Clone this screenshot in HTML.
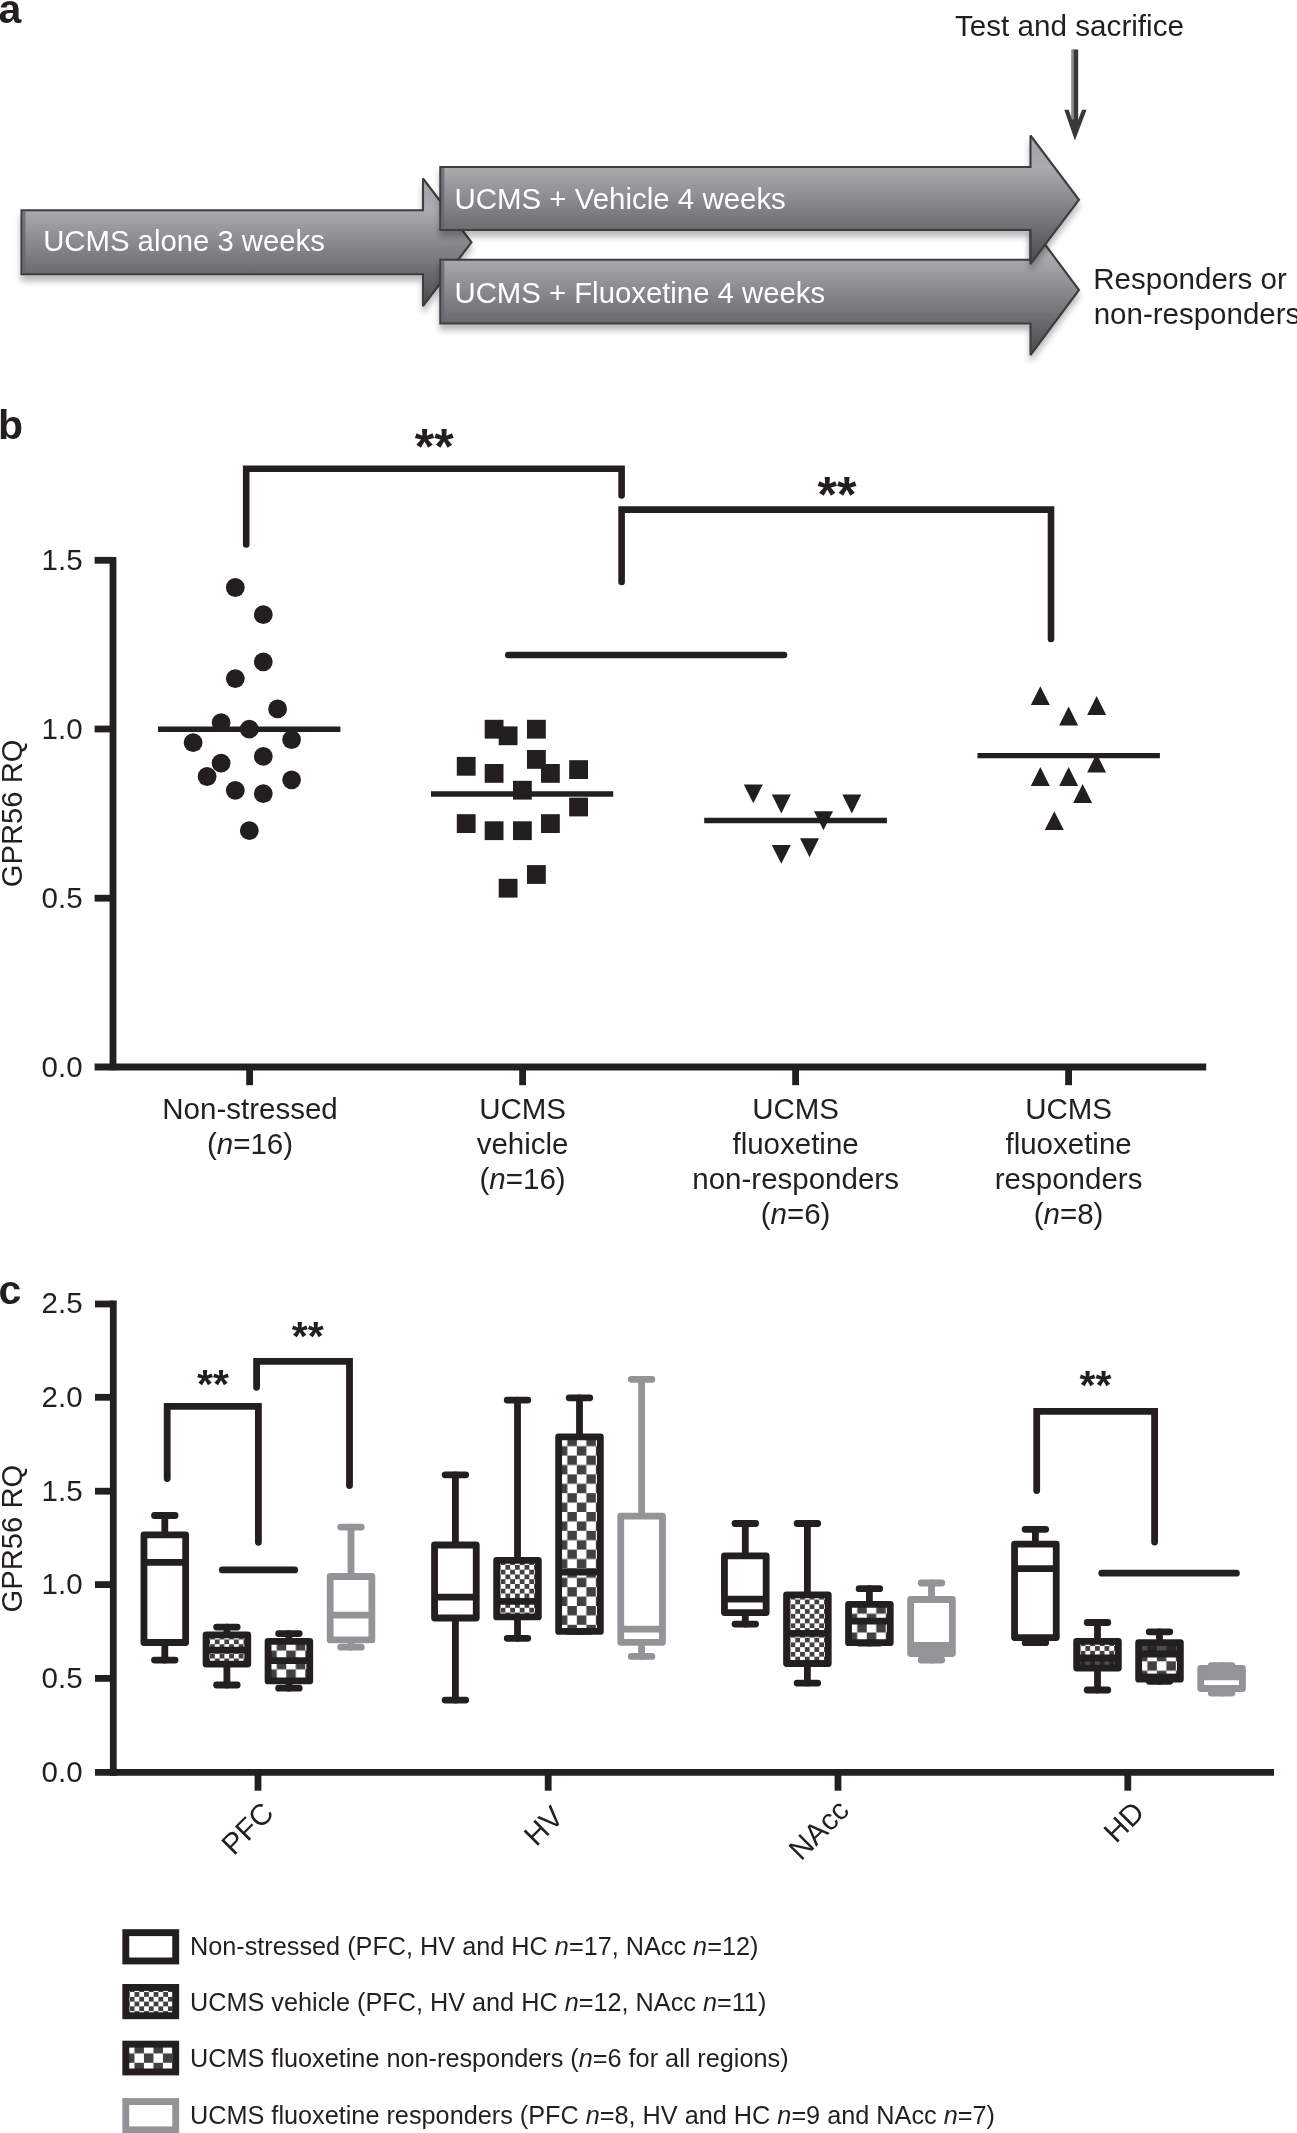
<!DOCTYPE html>
<html><head><meta charset="utf-8"><title>Figure</title>
<style>
html,body{margin:0;padding:0;background:#fff;}
body{width:1297px;height:2133px;overflow:hidden;font-family:"Liberation Sans",sans-serif;}
svg{display:block;will-change:transform;}
text{font-family:"Liberation Sans",sans-serif;}
</style></head><body>
<svg width="1297" height="2133" viewBox="0 0 1297 2133">
<defs>
<linearGradient id="ag" x1="0" y1="0" x2="0" y2="1">
<stop offset="0" stop-color="#a2a3a7"/><stop offset="0.25" stop-color="#aaabaf"/><stop offset="0.75" stop-color="#696a6e"/><stop offset="1" stop-color="#4b4b4e"/>
</linearGradient>
<filter id="sh" x="-5%" y="-20%" width="110%" height="150%">
<feGaussianBlur in="SourceAlpha" stdDeviation="3.2"/><feOffset dx="0" dy="5.5" result="b"/>
<feComponentTransfer><feFuncA type="linear" slope="0.27"/></feComponentTransfer>
<feMerge><feMergeNode/><feMergeNode in="SourceGraphic"/></feMerge>
</filter>
<pattern id="p0" patternUnits="userSpaceOnUse" x="205.25" y="1634.70" width="9.56" height="9.52"><rect width="9.56" height="9.52" fill="#fff"/><rect x="4.78" y="0" width="4.78" height="4.76" fill="#414042"/><rect x="0" y="4.76" width="4.78" height="4.76" fill="#414042"/></pattern>
<pattern id="p1" patternUnits="userSpaceOnUse" x="267.25" y="1641.20" width="19.0" height="18.8"><rect width="19.0" height="18.8" fill="#fff"/><rect x="9.5" y="0" width="9.5" height="9.4" fill="#414042"/><rect x="0" y="9.4" width="9.5" height="9.4" fill="#414042"/></pattern>
<pattern id="p2" patternUnits="userSpaceOnUse" x="495.85" y="1560.20" width="9.56" height="9.52"><rect width="9.56" height="9.52" fill="#fff"/><rect x="4.78" y="0" width="4.78" height="4.76" fill="#414042"/><rect x="0" y="4.76" width="4.78" height="4.76" fill="#414042"/></pattern>
<pattern id="p3" patternUnits="userSpaceOnUse" x="557.85" y="1436.80" width="19.0" height="18.8"><rect width="19.0" height="18.8" fill="#fff"/><rect x="9.5" y="0" width="9.5" height="9.4" fill="#414042"/><rect x="0" y="9.4" width="9.5" height="9.4" fill="#414042"/></pattern>
<pattern id="p4" patternUnits="userSpaceOnUse" x="785.75" y="1594.80" width="9.56" height="9.52"><rect width="9.56" height="9.52" fill="#fff"/><rect x="4.78" y="0" width="4.78" height="4.76" fill="#414042"/><rect x="0" y="4.76" width="4.78" height="4.76" fill="#414042"/></pattern>
<pattern id="p5" patternUnits="userSpaceOnUse" x="847.75" y="1604.30" width="19.0" height="18.8"><rect width="19.0" height="18.8" fill="#fff"/><rect x="9.5" y="0" width="9.5" height="9.4" fill="#414042"/><rect x="0" y="9.4" width="9.5" height="9.4" fill="#414042"/></pattern>
<pattern id="p6" patternUnits="userSpaceOnUse" x="1075.85" y="1641.30" width="9.56" height="9.52"><rect width="9.56" height="9.52" fill="#fff"/><rect x="4.78" y="0" width="4.78" height="4.76" fill="#414042"/><rect x="0" y="4.76" width="4.78" height="4.76" fill="#414042"/></pattern>
<pattern id="p7" patternUnits="userSpaceOnUse" x="1137.85" y="1642.50" width="19.0" height="18.8"><rect width="19.0" height="18.8" fill="#fff"/><rect x="9.5" y="0" width="9.5" height="9.4" fill="#414042"/><rect x="0" y="9.4" width="9.5" height="9.4" fill="#414042"/></pattern>
<pattern id="p8" patternUnits="userSpaceOnUse" x="124.95" y="1987.30" width="9.56" height="9.52"><rect width="9.56" height="9.52" fill="#fff"/><rect x="4.78" y="0" width="4.78" height="4.76" fill="#414042"/><rect x="0" y="4.76" width="4.78" height="4.76" fill="#414042"/></pattern>
<pattern id="p9" patternUnits="userSpaceOnUse" x="124.95" y="2044.00" width="19.0" height="18.8"><rect width="19.0" height="18.8" fill="#fff"/><rect x="9.5" y="0" width="9.5" height="9.4" fill="#414042"/><rect x="0" y="9.4" width="9.5" height="9.4" fill="#414042"/></pattern>
</defs>
<rect width="1297" height="2133" fill="#fff"/>

<g id="panel-a">
<text x="-1.5" y="22.5" font-size="41" font-weight="bold" fill="#231f20">a</text>
<text x="955" y="36.2" font-size="29.65" fill="#231f20">Test and sacrifice</text>
<g fill="#39393b"><rect x="1071.6" y="49.5" width="6.6" height="80"/><rect x="1071.6" y="49.5" width="2.2" height="70" fill="#8e8f92"/><path d="M1074.9 140.6 L1064.3 109.8 L1068.8 109.8 L1074.9 128.5 L1082 109.8 L1086.6 109.8 Z"/></g>
<path d="M21.5 210.3 L423 210.3 L423 178.5 L471.5 242.25 L423 306 L423 274.3 L21.5 274.3 Z" fill="url(#ag)" stroke="#3c3c3f" stroke-width="2.1" stroke-linejoin="miter" stroke-miterlimit="2" filter="url(#sh)"/><rect x="22.1" y="211.3" width="3.4" height="62.0" fill="#66676b" opacity="0.8"/>
<path d="M440.3 259.8 L1030.5 259.8 L1030.5 225 L1079 290.0 L1030.5 355 L1030.5 323.5 L440.3 323.5 Z" fill="url(#ag)" stroke="#3c3c3f" stroke-width="2.1" stroke-linejoin="miter" stroke-miterlimit="2" filter="url(#sh)"/><rect x="440.90000000000003" y="260.8" width="3.4" height="61.69999999999999" fill="#66676b" opacity="0.8"/>
<path d="M440.3 167 L1030.5 167 L1030.5 135.5 L1079 199.75 L1030.5 264 L1030.5 230 L440.3 230 Z" fill="url(#ag)" stroke="#3c3c3f" stroke-width="2.1" stroke-linejoin="miter" stroke-miterlimit="2" filter="url(#sh)"/><rect x="440.90000000000003" y="168" width="3.4" height="61" fill="#66676b" opacity="0.8"/>
<g fill="#fff" font-size="29.5">
<text x="43.2" y="250.6" font-size="29.3">UCMS alone 3 weeks</text>
<text x="454.5" y="208.7" font-size="29.45">UCMS + Vehicle 4 weeks</text>
<text x="454.5" y="302.7" font-size="29.32">UCMS + Fluoxetine 4 weeks</text>
</g>
<g fill="#231f20" font-size="29.5"><text x="1093.3" y="289.4">Responders or</text><text x="1093.7" y="323.6">non-responders</text></g>
</g>
<g id="panel-b">
<text x="-2" y="439.3" font-size="41" font-weight="bold" fill="#231f20">b</text>
<g stroke="#231f20" stroke-width="6.8" fill="none" stroke-linecap="butt">
<path d="M113 557 V1070.3"/>
<path d="M94.6 1067 H1206.2"/>
<path d="M94.6 560.3 H113"/>
<path d="M94.6 729 H113"/>
<path d="M94.6 898.2 H113"/>
<path d="M249.6 1067 V1085.2"/>
<path d="M522.6 1067 V1085.2"/>
<path d="M795.6 1067 V1085.2"/>
<path d="M1068.6 1067 V1085.2"/>
</g>
<g fill="#231f20" font-size="29.5" text-anchor="end">
<text x="82.6" y="569.8">1.5</text>
<text x="82.6" y="738.5">1.0</text>
<text x="82.6" y="907.7">0.5</text>
<text x="82.6" y="1076.5">0.0</text>
</g>
<text transform="translate(22,813.4) rotate(-90)" text-anchor="middle" font-size="29.2" fill="#231f20">GPR56 RQ</text>
<g fill="#231f20" font-size="29.5" text-anchor="middle"><text x="250.0" y="1118.8">Non-stressed</text><text x="250.0" y="1153.8">(<tspan font-style="italic">n</tspan>=16)</text></g>
<g fill="#231f20" font-size="29.5" text-anchor="middle"><text x="522.6" y="1118.8">UCMS</text><text x="522.6" y="1153.8">vehicle</text><text x="522.6" y="1188.8">(<tspan font-style="italic">n</tspan>=16)</text></g>
<g fill="#231f20" font-size="29.5" text-anchor="middle"><text x="795.6" y="1118.8">UCMS</text><text x="795.6" y="1153.8">fluoxetine</text><text x="795.6" y="1188.8">non-responders</text><text x="795.6" y="1223.8">(<tspan font-style="italic">n</tspan>=6)</text></g>
<g fill="#231f20" font-size="29.5" text-anchor="middle"><text x="1068.6" y="1118.8">UCMS</text><text x="1068.6" y="1153.8">fluoxetine</text><text x="1068.6" y="1188.8">responders</text><text x="1068.6" y="1223.8">(<tspan font-style="italic">n</tspan>=8)</text></g>
<g stroke="#231f20" stroke-width="6.6" fill="none" stroke-linecap="round" stroke-linejoin="miter">
<path d="M246.2 544.4 V468.7 H621.6 V495.5"/>
<path d="M621.6 582 V509.6 H1051 V639"/>
<path d="M508.3 655 H784"/>
</g>
<g fill="#231f20" font-size="50" font-weight="bold" text-anchor="middle"><text x="434.3" y="463.6">**</text><text x="837" y="512">**</text></g>
<g stroke="#231f20" stroke-width="5.4" fill="none">
<path d="M158 729.2 H340.4"/>
<path d="M431 794 H613.2"/>
<path d="M704.2 820.5 H886.9"/>
<path d="M977.5 755.6 H1159.9"/>
</g>
<g fill="#231f20">
<circle cx="235.3" cy="587.5" r="9.4"/>
<circle cx="263.3" cy="614.7" r="9.4"/>
<circle cx="263.3" cy="661.8" r="9.4"/>
<circle cx="235.3" cy="678.6" r="9.4"/>
<circle cx="277.6" cy="708.9" r="9.4"/>
<circle cx="221.1" cy="722.6" r="9.4"/>
<circle cx="249.3" cy="729.2" r="9.4"/>
<circle cx="193.1" cy="742.7" r="9.4"/>
<circle cx="291.6" cy="739.6" r="9.4"/>
<circle cx="263.3" cy="756.4" r="9.4"/>
<circle cx="221.1" cy="763.1" r="9.4"/>
<circle cx="207.1" cy="776.5" r="9.4"/>
<circle cx="291.6" cy="779.8" r="9.4"/>
<circle cx="235.3" cy="790.3" r="9.4"/>
<circle cx="263.3" cy="793.6" r="9.4"/>
<circle cx="249.3" cy="830.7" r="9.4"/>
<rect x="484.7" y="719.8" width="18.8" height="18.8"/>
<rect x="498.7" y="726.4" width="18.8" height="18.8"/>
<rect x="527.0" y="719.8" width="18.8" height="18.8"/>
<rect x="527.0" y="750.0" width="18.8" height="18.8"/>
<rect x="456.8" y="756.9" width="18.8" height="18.8"/>
<rect x="484.7" y="764.0" width="18.8" height="18.8"/>
<rect x="541.0" y="764.0" width="18.8" height="18.8"/>
<rect x="569.2" y="760.2" width="18.8" height="18.8"/>
<rect x="513.0" y="780.8" width="18.8" height="18.8"/>
<rect x="569.2" y="797.6" width="18.8" height="18.8"/>
<rect x="456.8" y="814.2" width="18.8" height="18.8"/>
<rect x="541.0" y="814.2" width="18.8" height="18.8"/>
<rect x="484.7" y="821.3" width="18.8" height="18.8"/>
<rect x="513.0" y="821.3" width="18.8" height="18.8"/>
<rect x="527.0" y="865.1" width="18.8" height="18.8"/>
<rect x="498.7" y="878.8" width="18.8" height="18.8"/>
<path d="M743.8 784.4 H762.8 L753.3 803.3 Z"/>
<path d="M771.8 794.5 H790.8 L781.3 813.4 Z"/>
<path d="M842.3 794.5 H861.3 L851.8 813.4 Z"/>
<path d="M814.0 811.3 H833.0 L823.5 830.2 Z"/>
<path d="M800.0 838.3 H819.0 L809.5 857.2 Z"/>
<path d="M771.8 844.9 H790.8 L781.3 863.8 Z"/>
<path d="M1040.3 686.2 L1049.8 705.1 H1030.8 Z"/>
<path d="M1096.6 696.1 L1106.1 715.0 H1087.1 Z"/>
<path d="M1068.6 706.5 L1078.1 725.4 H1059.1 Z"/>
<path d="M1096.6 753.6 L1106.1 772.5 H1087.1 Z"/>
<path d="M1040.3 767.1 L1049.8 786.0 H1030.8 Z"/>
<path d="M1068.6 767.1 L1078.1 786.0 H1059.1 Z"/>
<path d="M1082.6 784.1 L1092.1 803.0 H1073.1 Z"/>
<path d="M1054.3 811.2 L1063.8 830.1 H1044.8 Z"/>
</g>
</g>
<g id="panel-c">
<text x="-1.5" y="1303.5" font-size="41" font-weight="bold" fill="#231f20">c</text>
<g stroke="#231f20" stroke-width="6.8" fill="none">
<path d="M113.3 1300.6 V1775.7"/>
<path d="M95 1772.3 H1274"/>
<path d="M95 1304 H113.3"/>
<path d="M95 1397.3 H113.3"/>
<path d="M95 1491.2 H113.3"/>
<path d="M95 1584.6 H113.3"/>
<path d="M95 1678.4 H113.3"/>
<path d="M258 1772.3 V1790.7"/>
<path d="M548.2 1772.3 V1790.7"/>
<path d="M838 1772.3 V1790.7"/>
<path d="M1127.8 1772.3 V1790.7"/>
</g>
<g fill="#231f20" font-size="29.5" text-anchor="end">
<text x="82.6" y="1313.4">2.5</text>
<text x="82.6" y="1406.7">2.0</text>
<text x="82.6" y="1500.6">1.5</text>
<text x="82.6" y="1594.0">1.0</text>
<text x="82.6" y="1687.8">0.5</text>
<text x="82.6" y="1781.7">0.0</text>
</g>
<text transform="translate(22,1538.6) rotate(-90)" text-anchor="middle" font-size="29.2" fill="#231f20">GPR56 RQ</text>
<text transform="translate(275.4,1814.8) rotate(-45)" text-anchor="end" font-size="29.5" fill="#231f20">PFC</text>
<text transform="translate(565.2,1818.5) rotate(-45)" text-anchor="end" font-size="29.5" fill="#231f20">HV</text>
<text transform="translate(850.8,1812) rotate(-45)" text-anchor="end" font-size="29.5" fill="#231f20">NAcc</text>
<text transform="translate(1146.1,1814) rotate(-45)" text-anchor="end" font-size="29.5" fill="#231f20">HD</text>
<g stroke="#231f20" stroke-width="6.8" fill="none" stroke-linecap="round" stroke-linejoin="round"><path d="M164.79999999999998 1515.5 V1534.9 M164.79999999999998 1642.5 V1660.1"/><path d="M154.5 1515.5 H175.1 M154.5 1660.1 H175.1"/><rect x="143.95" y="1534.9" width="41.70" height="107.6" fill="#fff"/><path d="M143.95 1562.3 H185.65" stroke-linecap="butt"/></g>
<g stroke="#231f20" stroke-width="6.8" fill="none" stroke-linecap="round" stroke-linejoin="round"><path d="M226.89999999999998 1627.1 V1634.8000000000002 M226.89999999999998 1664.1 V1685"/><path d="M216.6 1627.1 H237.2 M216.6 1685 H237.2"/><rect x="206.05" y="1634.8" width="41.70" height="29.3" fill="url(#p0)"/><path d="M206.05 1650.2 H247.75" stroke-linecap="butt"/></g>
<g stroke="#231f20" stroke-width="6.8" fill="none" stroke-linecap="round" stroke-linejoin="round"><path d="M288.9 1633.6 V1641.3000000000002 M288.9 1680.8999999999999 V1688.2"/><path d="M278.6 1633.6 H299.2 M278.6 1688.2 H299.2"/><rect x="268.05" y="1641.3" width="41.70" height="39.6" fill="url(#p1)"/><path d="M268.05 1660.6 H309.75" stroke-linecap="butt"/></g>
<g stroke="#929497" stroke-width="6.8" fill="none" stroke-linecap="round" stroke-linejoin="round"><path d="M351.0 1527.1 V1576.5 M351.0 1639.8999999999999 V1647.2"/><path d="M340.7 1527.1 H361.3 M340.7 1647.2 H361.3"/><rect x="330.15" y="1576.5" width="41.70" height="63.4" fill="#fff"/><path d="M330.15 1615.2 H371.85" stroke-linecap="butt"/></g>
<g stroke="#231f20" stroke-width="6.8" fill="none" stroke-linecap="round" stroke-linejoin="round"><path d="M455.4 1474.8 V1545.0 M455.4 1618.0 V1700.1"/><path d="M445.1 1474.8 H465.7 M445.1 1700.1 H465.7"/><rect x="434.55" y="1545.0" width="41.70" height="73.0" fill="#fff"/><path d="M434.55 1597.2 H476.25" stroke-linecap="butt"/></g>
<g stroke="#231f20" stroke-width="6.8" fill="none" stroke-linecap="round" stroke-linejoin="round"><path d="M517.5 1400.1 V1560.3000000000002 M517.5 1616.8999999999999 V1638.3"/><path d="M507.2 1400.1 H527.8 M507.2 1638.3 H527.8"/><rect x="496.65" y="1560.3" width="41.70" height="56.6" fill="url(#p2)"/><path d="M496.65 1601.3 H538.35" stroke-linecap="butt"/></g>
<g stroke="#231f20" stroke-width="6.8" fill="none" stroke-linecap="round" stroke-linejoin="round"><path d="M579.5 1397.8 V1436.9 M579.5 1631.3999999999999 V1631.4"/><path d="M569.2 1397.8 H589.8 M569.2 1631.4 H589.8"/><rect x="558.65" y="1436.9" width="41.70" height="194.5" fill="url(#p3)"/><path d="M558.65 1572 H600.35" stroke-linecap="butt"/></g>
<g stroke="#929497" stroke-width="6.8" fill="none" stroke-linecap="round" stroke-linejoin="round"><path d="M641.6 1379.3 V1516.1000000000001 M641.6 1642.3 V1656.4"/><path d="M631.3 1379.3 H651.9 M631.3 1656.4 H651.9"/><rect x="620.75" y="1516.1" width="41.70" height="126.2" fill="#fff"/><path d="M620.75 1629.1 H662.45" stroke-linecap="butt"/></g>
<g stroke="#231f20" stroke-width="6.8" fill="none" stroke-linecap="round" stroke-linejoin="round"><path d="M745.3 1523.5 V1555.8000000000002 M745.3 1612.6 V1624.1"/><path d="M735.0 1523.5 H755.6 M735.0 1624.1 H755.6"/><rect x="724.45" y="1555.8" width="41.70" height="56.8" fill="#fff"/><path d="M724.45 1599.1 H766.15" stroke-linecap="butt"/></g>
<g stroke="#231f20" stroke-width="6.8" fill="none" stroke-linecap="round" stroke-linejoin="round"><path d="M807.4 1523.5 V1594.9 M807.4 1663.5 V1683.1"/><path d="M797.1 1523.5 H817.7 M797.1 1683.1 H817.7"/><rect x="786.55" y="1594.9" width="41.70" height="68.6" fill="url(#p4)"/><path d="M786.55 1633.4 H828.25" stroke-linecap="butt"/></g>
<g stroke="#231f20" stroke-width="6.8" fill="none" stroke-linecap="round" stroke-linejoin="round"><path d="M869.4 1588.7 V1604.4 M869.4 1642.6999999999998 V1643"/><path d="M859.1 1588.7 H879.7 M859.1 1643 H879.7"/><rect x="848.55" y="1604.4" width="41.70" height="38.3" fill="url(#p5)"/><path d="M848.55 1621.1 H890.25" stroke-linecap="butt"/></g>
<g stroke="#929497" stroke-width="6.8" fill="none" stroke-linecap="round" stroke-linejoin="round"><path d="M931.5 1583 V1599.5 M931.5 1653.6 V1660"/><path d="M921.2 1583 H941.8 M921.2 1660 H941.8"/><rect x="910.65" y="1599.5" width="41.70" height="54.1" fill="#fff"/><path d="M910.65 1645.5 H952.35" stroke-linecap="butt"/></g>
<g stroke="#231f20" stroke-width="6.8" fill="none" stroke-linecap="round" stroke-linejoin="round"><path d="M1035.4 1529.3 V1544.2 M1035.4 1637.6 V1642.7"/><path d="M1025.1 1529.3 H1045.7 M1025.1 1642.7 H1045.7"/><rect x="1014.55" y="1544.2" width="41.70" height="93.4" fill="#fff"/><path d="M1014.55 1568.6 H1056.25" stroke-linecap="butt"/></g>
<g stroke="#231f20" stroke-width="6.8" fill="none" stroke-linecap="round" stroke-linejoin="round"><path d="M1097.5 1622.5 V1641.4 M1097.5 1668.1 V1690"/><path d="M1087.2 1622.5 H1107.8 M1087.2 1690 H1107.8"/><rect x="1076.65" y="1641.4" width="41.70" height="26.7" fill="url(#p6)"/><path d="M1076.65 1658 H1118.35" stroke-linecap="butt"/></g>
<g stroke="#231f20" stroke-width="6.8" fill="none" stroke-linecap="round" stroke-linejoin="round"><path d="M1159.5 1631.8 V1642.6000000000001 M1159.5 1679.1999999999998 V1681.3"/><path d="M1149.2 1631.8 H1169.8 M1149.2 1681.3 H1169.8"/><rect x="1138.65" y="1642.6" width="41.70" height="36.6" fill="url(#p7)"/><path d="M1138.65 1654 H1180.35" stroke-linecap="butt"/></g>
<g stroke="#929497" stroke-width="6.8" fill="none" stroke-linecap="round" stroke-linejoin="round"><path d="M1221.6 1665.7 V1668.4 M1221.6 1688.5 V1693.1"/><path d="M1211.3 1665.7 H1231.9 M1211.3 1693.1 H1231.9"/><rect x="1200.75" y="1668.4" width="41.70" height="20.1" fill="#fff"/><path d="M1200.75 1676.9 H1242.45" stroke-linecap="butt"/></g>
<rect x="912.5" y="1646" width="38" height="6" fill="#929497"/>
<rect x="1202.6" y="1669" width="38" height="6" fill="#929497"/>
<rect x="1140.5" y="1645.5" width="38" height="5.5" fill="#231f20" opacity="0.8"/>
<rect x="1140.5" y="1673.6" width="38" height="3" fill="#231f20"/>
<rect x="1078.5" y="1660" width="38" height="5" fill="#231f20" opacity="0.8"/>
<g stroke="#231f20" stroke-width="6.8" fill="none" stroke-linecap="round" stroke-linejoin="miter">
<path d="M167.2 1478.6 V1406.3 H258.4 V1542.3"/>
<path d="M256.6 1387.3 V1361.3 H349.5 V1485.5"/>
<path d="M222.3 1569.9 H294.7"/>
<path d="M1036.7 1490.5 V1411.3 H1154.6 V1542.1"/>
<path d="M1101.8 1573.2 H1236.4"/>
</g>
<g fill="#231f20" font-size="41" font-weight="bold" text-anchor="middle"><text x="213" y="1397.5">**</text><text x="307.7" y="1350.2">**</text><text x="1095.5" y="1398.5">**</text></g>
<rect x="125.8" y="1932.65" width="49.9" height="28.30" fill="#fff" stroke="#231f20" stroke-width="6.9"/>
<text x="190" y="1955" font-size="25.25" fill="#231f20">Non-stressed (PFC, HV and HC <tspan font-style="italic">n</tspan>=17, NAcc <tspan font-style="italic">n</tspan>=12)</text>
<rect x="125.8" y="1987.45" width="49.9" height="28.30" fill="url(#p8)" stroke="#231f20" stroke-width="6.9"/>
<text x="190" y="2010.9" font-size="25.25" fill="#231f20">UCMS vehicle (PFC, HV and HC <tspan font-style="italic">n</tspan>=12, NAcc <tspan font-style="italic">n</tspan>=11)</text>
<rect x="125.8" y="2044.15" width="49.9" height="27.80" fill="url(#p9)" stroke="#231f20" stroke-width="6.9"/>
<text x="190" y="2067.1" font-size="25.25" fill="#231f20">UCMS fluoxetine non-responders (<tspan font-style="italic">n</tspan>=6 for all regions)</text>
<rect x="125.8" y="2101.55" width="49.9" height="28.30" fill="#fff" stroke="#929497" stroke-width="6.9"/>
<text x="190" y="2123.5" font-size="25.25" fill="#231f20">UCMS fluoxetine responders (PFC <tspan font-style="italic">n</tspan>=8, HV and HC <tspan font-style="italic">n</tspan>=9 and NAcc <tspan font-style="italic">n</tspan>=7)</text>
</g>
</svg></body></html>
